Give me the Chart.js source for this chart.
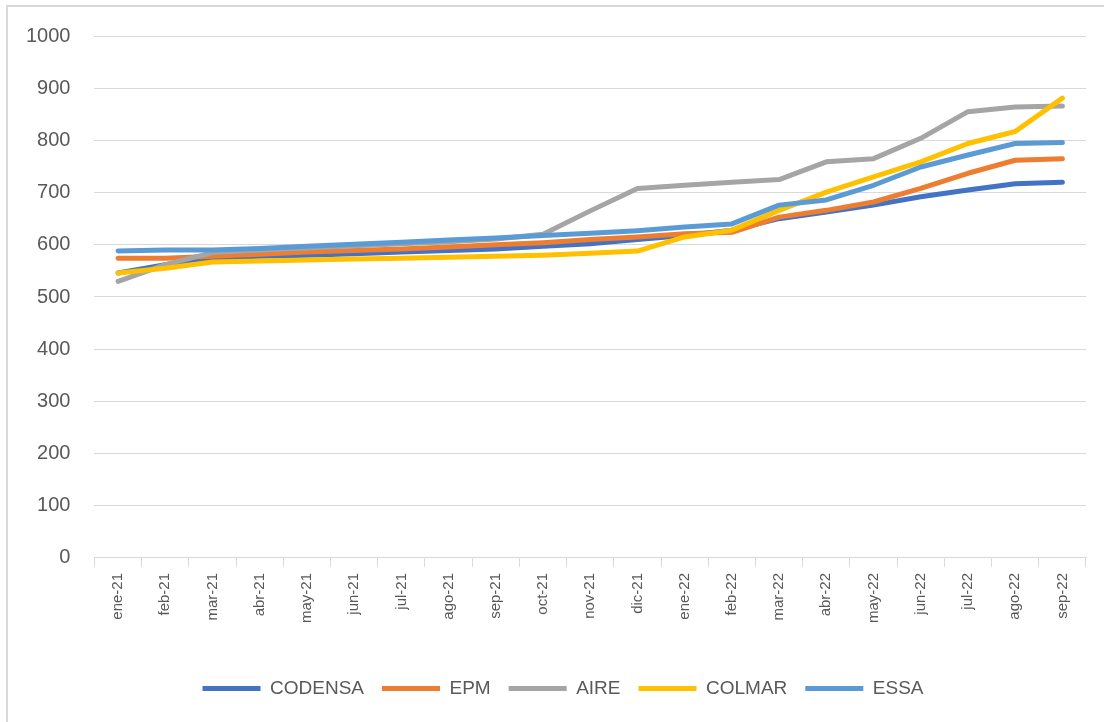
<!DOCTYPE html>
<html>
<head>
<meta charset="utf-8">
<script src="https://cdn.jsdelivr.net/npm/chart.js@4.4.0/dist/chart.umd.min.js"></script>
<style>
  html, body { margin: 0; padding: 0; background: #fff; }
  #wrap { position: relative; width: 1104px; height: 722px; overflow: hidden; }
  #frame { position: absolute; left: 6px; top: 5px; width: 1200px; height: 800px;
           border-top: 2px solid #d9d9d9; border-left: 2px solid #d9d9d9; }
  canvas { position: absolute; left: 0; top: 0; }
</style>
</head>
<body>
<div id="wrap">
  <div id="frame"></div>
  <canvas id="chart" width="1104" height="722"></canvas>
</div>
<script>
// meses (eje x)
const categories = ['ene-21','feb-21','mar-21','abr-21','may-21','jun-21','jul-21','ago-21','sep-21','oct-21','nov-21','dic-21',
                    'ene-22','feb-22','mar-22','abr-22','may-22','jun-22','jul-22','ago-22','sep-22'];

// series
const codensa = [546, 562, 575, 578, 580, 583, 586, 589, 592, 597, 602, 610, 618, 628, 650, 663, 676, 692, 705, 717, 720];
const epm     = [574, 574, 578, 582, 586, 589, 592, 596, 600, 604, 610, 615, 621, 624, 653, 666, 682, 708, 737, 762, 765];
const aire    = [530, 562, 585, 590, 594, 598, 602, 606, 611, 620, 665, 708, 714, 720, 725, 759, 765, 804, 855, 864, 866];
const colmar  = [546, 555, 567, 569, 571, 573, 574, 576, 578, 580, 584, 588, 615, 628, 666, 701, 730, 759, 794, 817, 881];
const essa    = [588, 590, 590, 593, 597, 601, 605, 609, 613, 618, 622, 627, 634, 640, 676, 686, 714, 749, 772, 794, 796];

const seriesNames = ['CODENSA', 'EPM', 'AIRE', 'COLMAR', 'ESSA'];
const seriesData = [codensa, epm, aire, colmar, essa];
const seriesColors = ['#4472C4', '#ED7D31', '#A5A5A5', '#FFC000', '#5B9BD5'];

const yTicks = [0, 100, 200, 300, 400, 500, 600, 700, 800, 900, 1000];

const textColor = '#595959';
const gridColor = '#d9d9d9';
const fontFamily = "'Liberation Sans', Arial, sans-serif";

// en Excel la ultima serie queda encima; en Chart.js el "order" mas bajo se dibuja encima
const datasets = seriesNames.map((name, i) => ({
    label: name,
    data: seriesData[i],
    borderColor: seriesColors[i],
    backgroundColor: seriesColors[i],
    borderWidth: 5,
    pointRadius: 0,
    tension: 0,
    fill: false,
    borderCapStyle: 'round',
    borderJoinStyle: 'round',
    order: seriesNames.length - i
}));

// la leyenda del original esta algo corrida a la derecha
const legendShift = {
    id: 'legendShift',
    afterLayout(chart) {
        chart.legend.left += 19;
        chart.legend.right += 19;
    }
};

new Chart(document.getElementById('chart').getContext('2d'), {
    type: 'line',
    data: { labels: categories, datasets: datasets },
    plugins: [legendShift],
    options: {
        responsive: false,
        animation: false,
        layout: { padding: { left: 2, right: 18, top: 15, bottom: 14 } },
        plugins: {
            tooltip: { enabled: false },
            legend: {
                position: 'bottom',
                labels: {
                    color: textColor,
                    font: { family: fontFamily, size: 19 },
                    usePointStyle: true,
                    pointStyle: 'line',
                    pointStyleWidth: 58,
                    boxHeight: 5,
                    padding: 18,
                    sort: (a, b) => a.datasetIndex - b.datasetIndex
                }
            }
        },
        scales: {
            x: {
                offset: true,
                grid: { offset: true, drawOnChartArea: false, color: gridColor, tickLength: 9 },
                border: { color: gridColor, width: 1 },
                ticks: {
                    color: textColor,
                    font: { family: fontFamily, size: 15 },
                    minRotation: 90, maxRotation: 90,
                    autoSkip: false,
                    padding: 6
                },
                // espacio libre entre etiquetas y leyenda
                afterFit: scale => { scale.height += 32; }
            },
            y: {
                min: 0, max: 1000,
                afterBuildTicks: axis => { axis.ticks = yTicks.map(v => ({ value: v })); },
                grid: { color: gridColor, drawTicks: false },
                border: { display: false },
                ticks: {
                    color: textColor,
                    font: { family: fontFamily, size: 20 },
                    padding: 24,
                    callback: v => String(v)
                }
            }
        }
    }
});
</script>
</body>
</html>
